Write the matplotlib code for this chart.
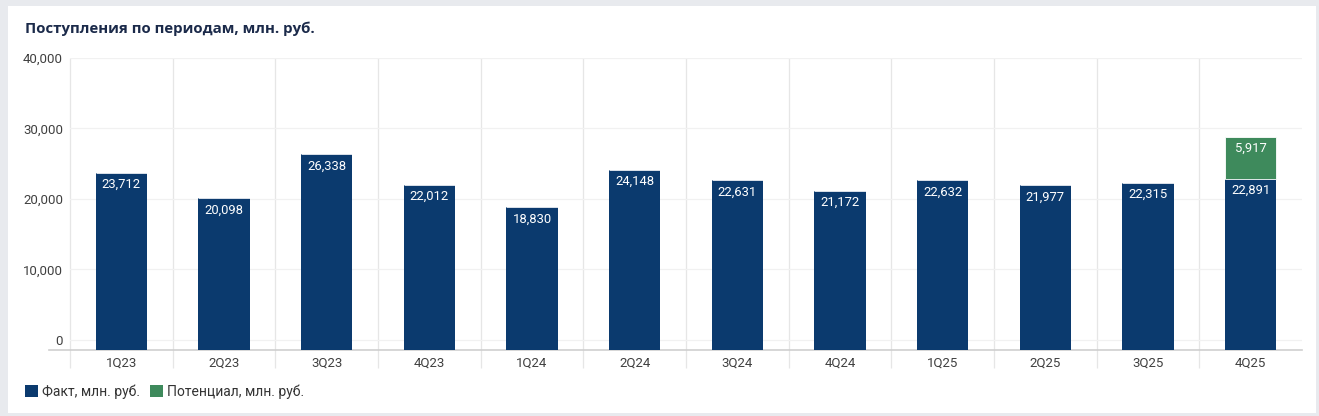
import matplotlib
matplotlib.use("Agg")
import matplotlib.pyplot as plt
from matplotlib.patches import Patch, Rectangle

plt.rcParams["font.family"] = ["Roboto", "DejaVu Sans"]

quarters = ["1Q23", "2Q23", "3Q23", "4Q23", "1Q24", "2Q24",
            "3Q24", "4Q24", "1Q25", "2Q25", "3Q25", "4Q25"]
fact = [23712, 20098, 26338, 22012, 18830, 24148,
        22631, 21172, 22632, 21977, 22315, 22891]
potential = [0, 0, 0, 0, 0, 0, 0, 0, 0, 0, 0, 5917]
yticks = [0, 10000, 20000, 30000, 40000]

navy = "#0b3a6e"
green = "#3e8a5c"

W, H = 1319, 416
fig = plt.figure(figsize=(W / 100, H / 100), dpi=100)
fig.patch.set_facecolor("#e8eaee")
# white card
fig.patches.append(Rectangle((8 / W, 1 - 413 / H), (1316 - 8) / W, (413 - 6) / H,
                             transform=fig.transFigure, facecolor="white",
                             edgecolor="none", zorder=-10))

ax = fig.add_axes([70 / W, 1 - 350 / H, (1302 - 70) / W, (350 - 58) / H])
ax.set_facecolor("none")

# the plot floor sits a little under zero, bars run down to it
ymin = -1420
ax.set_xlim(-0.5, len(quarters) - 0.5)
ax.set_ylim(ymin, 40000)

x = list(range(len(quarters)))
ax.bar(x, [v - ymin for v in fact], bottom=ymin, width=0.5, color=navy, zorder=3)
ax.bar(x, potential, width=0.5, bottom=fact, color=green, zorder=3,
       edgecolor="white", linewidth=0.6)

for i, v in enumerate(fact):
    ax.annotate(f"{v:,}", (i, v), xytext=(0, -11), textcoords="offset points",
                ha="center", va="baseline", color="white", fontsize=9.4, zorder=4)
for i, v in enumerate(potential):
    if v:
        ax.annotate(f"{v:,}", (i, fact[i] + v), xytext=(0, -11),
                    textcoords="offset points", ha="center", va="baseline",
                    color="white", fontsize=9.4, zorder=4)

# category separators
ax.vlines([i - 0.5 for i in range(len(quarters))], -3970, 40000,
          colors="#e6e6e6", linewidth=0.9, clip_on=False, zorder=1)
# baseline
ax.plot([-0.7, len(quarters) - 0.5], [ymin, ymin], color="#cfcfcf", linewidth=1.2,
        clip_on=False, zorder=2)

ax.set_yticks(yticks)
ax.set_yticklabels([f"{t:,}" for t in yticks])
ax.yaxis.grid(True, color="#f1f1f1", linewidth=0.9, zorder=0)
ax.set_xticks(x)
ax.set_xticklabels(quarters)
ax.tick_params(axis="both", length=0, labelsize=9.5, labelcolor="#404040")
ax.tick_params(axis="y", pad=5)
ax.tick_params(axis="x", pad=5)
for s in ax.spines.values():
    s.set_visible(False)

fig.text(25 / W, 1 - 29 / H, "Поступления по периодам, млн. руб.", fontsize=10.8,
         fontweight="bold", color="#1b2a4a", va="center", ha="left",
         family=["Open Sans", "DejaVu Sans"])

handles = [Patch(facecolor=navy, label="Факт, млн. руб."),
           Patch(facecolor=green, label="Потенциал, млн. руб.")]
fig.legend(handles=handles, loc="center left", bbox_to_anchor=(25 / W, 1 - 392 / H),
           ncol=2, frameon=False, fontsize=10, handlelength=0.95, handleheight=0.95,
           handletextpad=0.3, columnspacing=0.7, borderaxespad=0, borderpad=0,
           labelcolor="#333333")

fig.savefig("out.png", dpi=100, facecolor=fig.get_facecolor())
